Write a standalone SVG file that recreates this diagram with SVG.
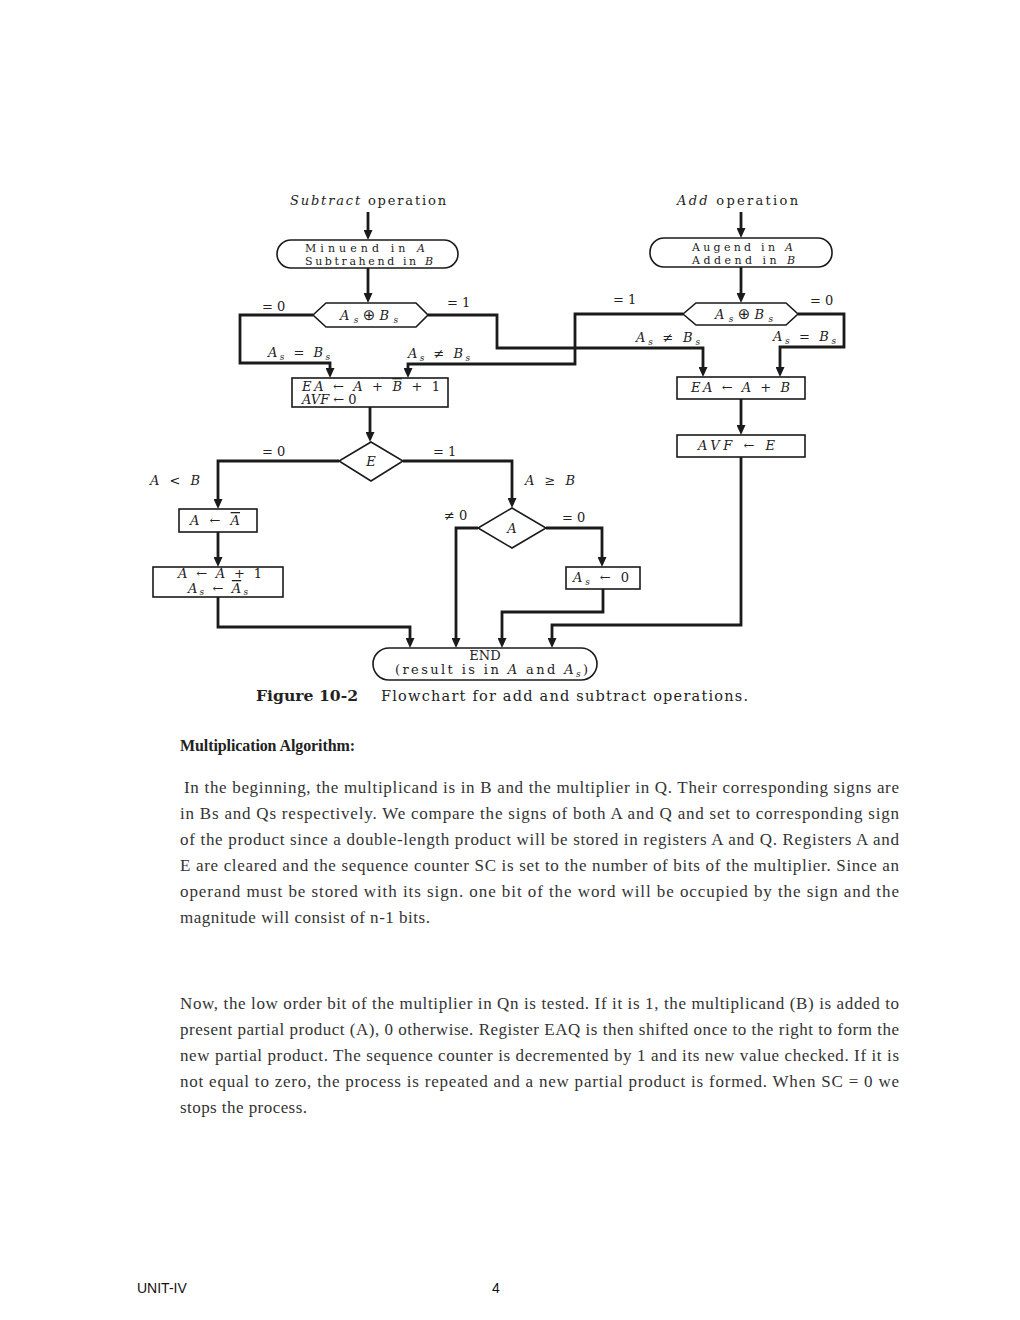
<svg xmlns="http://www.w3.org/2000/svg" width="1020" height="1320" viewBox="0 0 1020 1320">
<style>
.bg{fill:#fff}
.node{fill:#fff;stroke:#1a1a1a;stroke-width:1.6}
.conn{fill:none;stroke:#1a1a1a;stroke-width:2.8;stroke-linejoin:miter}
.fig{font-family:"DejaVu Serif","Liberation Serif",serif;font-size:13px;fill:#222}
.sm{font-size:11px}
.it{font-style:italic}
.sub{font-size:9px;font-style:italic}
.sym{font-family:"DejaVu Sans",sans-serif}
.ol{text-decoration:overline}
.cap{font-family:"DejaVu Serif","Liberation Serif",serif;font-size:14.5px;fill:#222}
.body{font-family:"Liberation Serif","Times New Roman",serif;font-size:17px;fill:#333}
.head{font-family:"Liberation Serif","Times New Roman",serif;font-size:16px;font-weight:bold;fill:#222}
.foot{font-family:"Liberation Sans",Arial,sans-serif;font-size:14px;fill:#111}
</style>
<defs>
<marker id="ah" viewBox="0 0 10 9" refX="4" refY="4.5" markerWidth="10" markerHeight="9" markerUnits="userSpaceOnUse" orient="auto">
<path d="M0,0 L10,4.5 L0,9 z" fill="#1a1a1a"/>
</marker>
</defs>
<rect class="bg" x="0" y="0" width="1020" height="1320"/>

<g id="connectors">
<path class="conn" marker-end="url(#ah)" d="M368,212 V234"/>
<path class="conn" marker-end="url(#ah)" d="M368,268 V297"/>
<path class="conn" marker-end="url(#ah)" d="M741,212 V232"/>
<path class="conn" marker-end="url(#ah)" d="M741,267 V297"/>
<path class="conn" marker-end="url(#ah)" d="M313,315 H240 V363 H330 V372"/>
<path class="conn" marker-end="url(#ah)" d="M428,315 H497 V348 H703 V371"/>
<path class="conn" marker-end="url(#ah)" d="M683,314 H575 V364 H408 V372"/>
<path class="conn" marker-end="url(#ah)" d="M798,314 H844 V347 H780 V371"/>
<path class="conn" marker-end="url(#ah)" d="M370,407 V436"/>
<path class="conn" marker-end="url(#ah)" d="M741,399 V429"/>
<path class="conn" marker-end="url(#ah)" d="M339,461 H218 V503"/>
<path class="conn" marker-end="url(#ah)" d="M403,461 H512 V502"/>
<path class="conn" marker-end="url(#ah)" d="M218,532 V561"/>
<path class="conn" marker-end="url(#ah)" d="M546,528 H602 V561"/>
<path class="conn" marker-end="url(#ah)" d="M478,528 H456 V642"/>
<path class="conn" marker-end="url(#ah)" d="M218,597 V627 H410 V642"/>
<path class="conn" marker-end="url(#ah)" d="M603,589 V612 H502 V642"/>
<path class="conn" marker-end="url(#ah)" d="M741,457 V625 H552 V642"/>
</g>

<g id="labels" class="fig">
<text x="290" y="205" textLength="156" lengthAdjust="spacing"><tspan class="it">Subtract</tspan> operation</text>
<text x="677" y="205" textLength="121" lengthAdjust="spacing"><tspan class="it">Add</tspan> operation</text>
<text x="262" y="311">= 0</text>
<text x="447" y="307">= 1</text>
<text x="613" y="304">= 1</text>
<text x="810" y="305">= 0</text>
<text x="268" y="357" textLength="62" lengthAdjust="spacing"><tspan class="it">A</tspan><tspan class="sub" dy="3">s</tspan><tspan dy="-3"> = </tspan><tspan class="it">B</tspan><tspan class="sub" dy="3">s</tspan></text>
<text x="408" y="358" textLength="62" lengthAdjust="spacing"><tspan class="it">A</tspan><tspan class="sub" dy="3">s</tspan><tspan dy="-3"> ≠ </tspan><tspan class="it">B</tspan><tspan class="sub" dy="3">s</tspan></text>
<text x="636" y="342" textLength="64" lengthAdjust="spacing"><tspan class="it">A</tspan><tspan class="sub" dy="3">s</tspan><tspan dy="-3"> ≠ </tspan><tspan class="it">B</tspan><tspan class="sub" dy="3">s</tspan></text>
<text x="773" y="341" textLength="63" lengthAdjust="spacing"><tspan class="it">A</tspan><tspan class="sub" dy="3">s</tspan><tspan dy="-3"> = </tspan><tspan class="it">B</tspan><tspan class="sub" dy="3">s</tspan></text>
<text x="262" y="456">= 0</text>
<text x="433" y="456">= 1</text>
<text x="150" y="485" textLength="50" lengthAdjust="spacing"><tspan class="it">A</tspan> &lt; <tspan class="it">B</tspan></text>
<text x="525" y="485" textLength="50" lengthAdjust="spacing"><tspan class="it">A</tspan> ≥ <tspan class="it">B</tspan></text>
<text x="444" y="520">≠ 0</text>
<text x="562" y="522">= 0</text>
</g>

<g id="minuend">
<rect class="node" x="277" y="240" width="181" height="28" rx="14"/>
<text class="fig sm" x="305" y="252" textLength="120" lengthAdjust="spacing">Minuend in <tspan class="it">A</tspan></text>
<text class="fig sm" x="305" y="265" textLength="128" lengthAdjust="spacing">Subtrahend in <tspan class="it">B</tspan></text>
</g>
<g id="augend">
<rect class="node" x="650" y="238" width="182" height="29" rx="14"/>
<text class="fig sm" x="692" y="251" textLength="101" lengthAdjust="spacing">Augend in <tspan class="it">A</tspan></text>
<text class="fig sm" x="692" y="264" textLength="103" lengthAdjust="spacing">Addend in <tspan class="it">B</tspan></text>
</g>
<g id="sub-xor">
<polygon class="node" points="313,315 326,303 416,303 428,315 416,327 326,327"/>
<text class="fig" x="340" y="320" textLength="58" lengthAdjust="spacing"><tspan class="it">A</tspan><tspan class="sub" dy="3">s</tspan><tspan class="sym" dy="-3" font-size="15">⊕</tspan><tspan class="it">B</tspan><tspan class="sub" dy="3">s</tspan></text>
</g>
<g id="add-xor">
<polygon class="node" points="683,314 696,303 786,303 798,314 786,325 696,325"/>
<text class="fig" x="715" y="319" textLength="58" lengthAdjust="spacing"><tspan class="it">A</tspan><tspan class="sub" dy="3">s</tspan><tspan class="sym" dy="-3" font-size="15">⊕</tspan><tspan class="it">B</tspan><tspan class="sub" dy="3">s</tspan></text>
</g>
<g id="sub-box">
<rect class="node" x="292" y="378" width="156" height="29"/>
<text class="fig" x="302" y="391" textLength="138" lengthAdjust="spacing"><tspan class="it">EA</tspan> ← <tspan class="it">A</tspan> + <tspan class="it ol">B</tspan> + 1</text>
<text class="fig" x="302" y="404"><tspan class="it">AVF</tspan> ← 0</text>
</g>
<g id="add-box">
<rect class="node" x="677" y="377" width="128" height="22"/>
<text class="fig" x="691" y="392" textLength="99" lengthAdjust="spacing"><tspan class="it">EA</tspan> ← <tspan class="it">A</tspan> + <tspan class="it">B</tspan></text>
</g>
<g id="avf-box">
<rect class="node" x="677" y="435" width="128" height="22"/>
<text class="fig" x="698" y="450" textLength="77" lengthAdjust="spacing"><tspan class="it">AVF</tspan> ← <tspan class="it">E</tspan></text>
</g>
<g id="e-diamond">
<polygon class="node" points="371,442 403,461 371,481 339,461"/>
<text class="fig it" x="371" y="466" text-anchor="middle">E</text>
</g>
<g id="comp-box">
<rect class="node" x="179" y="509" width="78" height="23"/>
<text class="fig" x="190" y="525" textLength="50" lengthAdjust="spacing"><tspan class="it">A</tspan> ← <tspan class="it ol">A</tspan></text>
</g>
<g id="inc-box">
<rect class="node" x="153" y="567" width="130" height="30"/>
<text class="fig" x="178" y="578" textLength="84" lengthAdjust="spacing"><tspan class="it">A</tspan> ← <tspan class="it">A</tspan> + 1</text>
<text class="fig" x="188" y="593" textLength="60" lengthAdjust="spacing"><tspan class="it">A</tspan><tspan class="sub" dy="2">s</tspan><tspan dy="-2"> ← </tspan><tspan class="it ol">A</tspan><tspan class="sub" dy="2">s</tspan></text>
</g>
<g id="a-diamond">
<polygon class="node" points="512,508 546,528 512,548 478,528"/>
<text class="fig it" x="512" y="533" text-anchor="middle">A</text>
</g>
<g id="clear-box">
<rect class="node" x="566" y="567" width="74" height="22"/>
<text class="fig" x="573" y="582" textLength="56" lengthAdjust="spacing"><tspan class="it">A</tspan><tspan class="sub" dy="3">s</tspan><tspan dy="-3"> ← 0</tspan></text>
</g>
<g id="end">
<rect class="node" x="373" y="648" width="224" height="32" rx="16"/>
<text class="fig" x="485" y="660" text-anchor="middle">END</text>
<text class="fig" x="395" y="674" textLength="193" lengthAdjust="spacing">(result is in <tspan class="it">A</tspan> and <tspan class="it">A</tspan><tspan class="sub" dy="3">s</tspan><tspan dy="-3">)</tspan></text>
</g>

<g id="caption">
<text class="cap" x="256" y="701" font-weight="bold" textLength="102" lengthAdjust="spacingAndGlyphs">Figure 10-2</text>
<text class="cap" x="381" y="701" textLength="367" lengthAdjust="spacing">Flowchart for add and subtract operations.</text>
</g>

<g id="text">
<text class="head" x="180" y="751" textLength="175" lengthAdjust="spacing">Multiplication Algorithm:</text>
<text class="body" x="184" y="793" textLength="715" lengthAdjust="spacing">In the beginning, the multiplicand is in B and the multiplier in Q. Their corresponding signs are</text>
<text class="body" x="180" y="819" textLength="719" lengthAdjust="spacing">in Bs and Qs respectively. We compare the signs of both A and Q and set to corresponding sign</text>
<text class="body" x="180" y="845" textLength="719" lengthAdjust="spacing">of the product since a double-length product will be stored in registers A and Q. Registers A and</text>
<text class="body" x="180" y="871" textLength="719" lengthAdjust="spacing">E are cleared and the sequence counter SC is set to the number of bits of the multiplier. Since an</text>
<text class="body" x="180" y="897" textLength="719" lengthAdjust="spacing">operand must be stored with its sign. one bit of the word will be occupied by the sign and the</text>
<text class="body" x="180" y="923" textLength="250" lengthAdjust="spacing">magnitude will consist of n-1 bits.</text>
<text class="body" x="180" y="1009" textLength="719" lengthAdjust="spacing">Now, the low order bit of the multiplier in Qn is tested. If it is 1, the multiplicand (B) is added to</text>
<text class="body" x="180" y="1035" textLength="719" lengthAdjust="spacing">present partial product (A), 0 otherwise. Register EAQ is then shifted once to the right to form the</text>
<text class="body" x="180" y="1061" textLength="719" lengthAdjust="spacing">new partial product. The sequence counter is decremented by 1 and its new value checked. If it is</text>
<text class="body" x="180" y="1087" textLength="719" lengthAdjust="spacing">not equal to zero, the process is repeated and a new partial product is formed. When SC = 0 we</text>
<text class="body" x="180" y="1113" textLength="127" lengthAdjust="spacing">stops the process.</text>
</g>

<g id="footer">
<text class="foot" x="137" y="1293">UNIT-IV</text>
<text class="foot" x="492" y="1293">4</text>
</g>
</svg>
